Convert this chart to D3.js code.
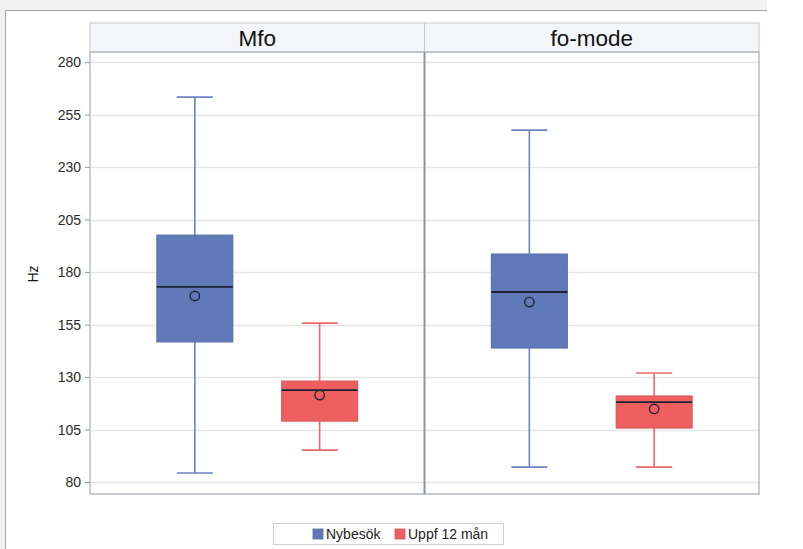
<!DOCTYPE html>
<html>
<head>
<meta charset="utf-8">
<script src="https://cdn.jsdelivr.net/npm/d3@7"></script>
<style>
  html, body { margin: 0; padding: 0; background: #ffffff; }
  svg { display: block; font-family: "Liberation Sans", Arial, sans-serif; }
</style>
</head>
<body>
<svg id="chart" width="803" height="549"></svg>
<script>
// Panels and groups
const panels = ["Mfo", "fo-mode"];
const groups = ["Nybesök", "Uppf 12 mån"];
const groupColors = ["#6079b9", "#ef5f5f"];
const whiskerColors = ["#6b83c2", "#ea6a6a"];

// Box statistics (Hz), one entry per panel, ordered by group
const whiskerLow  = [[84.3, 95.2],  [87.1, 87.1]];
const q1          = [[146.7, 109.0], [143.8, 105.7]];
const median      = [[172.9, 123.8], [170.5, 118.1]];
const q3          = [[197.6, 128.1], [188.6, 121.0]];
const whiskerHigh = [[263.3, 155.7], [247.6, 131.9]];
const mean        = [[168.6, 121.4], [165.7, 114.8]];

const yTicks = [80, 105, 130, 155, 180, 205, 230, 255, 280];

const svg = d3.select("#chart");

// page frame
svg.append("rect").attr("x", 0).attr("y", 0).attr("width", 767).attr("height", 10).attr("fill", "#f1f1f1");
svg.append("rect").attr("x", 0).attr("y", 0).attr("width", 5).attr("height", 549).attr("fill", "#f1f1f1");
svg.append("path").attr("d", "M5.5,549 V10.5 H767").attr("fill", "none").attr("stroke", "#a8a8a8").attr("stroke-width", 1);

const plotLeft = 90, plotRight = 759, plotTop = 52, plotBottom = 494;
const headerTop = 23;
const panelW = (plotRight - plotLeft) / panels.length;

const y = d3.scaleLinear().domain([74.3, 284.8]).range([plotBottom, plotTop]);
const xPanel = d3.scaleBand().domain(panels).range([plotLeft, plotRight]);
const xGroup = d3.scalePoint().domain(groups).range([0, panelW]).padding(0.84);
const boxW = 76, capW = 36;

// header strips
panels.forEach(p => {
  const px = xPanel(p);
  svg.append("rect").attr("x", px).attr("y", headerTop).attr("width", panelW).attr("height", plotTop - headerTop)
    .attr("fill", "#f4f6fa").attr("stroke", "#c4c8cc").attr("stroke-width", 1);
  svg.append("text").attr("x", px + panelW / 2).attr("y", headerTop + 23)
    .attr("text-anchor", "middle").attr("font-size", 22.5).attr("fill", "#111").text(p);
});

// gridlines
svg.append("g").selectAll("line").data(yTicks).join("line")
  .attr("x1", plotLeft).attr("x2", plotRight)
  .attr("y1", d => Math.round(y(d)) + 0.5).attr("y2", d => Math.round(y(d)) + 0.5)
  .attr("stroke", "#e6e6e6").attr("stroke-width", 1.5);

// y axis
const yAxis = d3.axisLeft(y).tickValues(yTicks).tickSize(5).tickPadding(4);
const ga = svg.append("g").attr("transform", `translate(${plotLeft},0)`).call(yAxis);
ga.select(".domain").remove();
ga.selectAll(".tick line").attr("stroke", "#999");
ga.selectAll(".tick text").attr("font-size", 14).attr("fill", "#2a2a2a").attr("font-family", "Liberation Sans, Arial, sans-serif");

svg.append("text").attr("transform", `translate(38,${(plotTop + plotBottom) / 2 + 1}) rotate(-90)`)
  .attr("text-anchor", "middle").attr("font-size", 14).attr("fill", "#1a1a1a").text("Hz");

// boxes
panels.forEach((p, pi) => {
  const g = svg.append("g").attr("transform", `translate(${xPanel(p)},0)`);
  groups.forEach((grp, gi) => {
    const cx = xGroup(grp);
    const wc = whiskerColors[gi];
    // whiskers
    g.append("line").attr("x1", cx).attr("x2", cx)
      .attr("y1", y(whiskerHigh[pi][gi])).attr("y2", y(q3[pi][gi]))
      .attr("stroke", wc).attr("stroke-width", 1.6);
    g.append("line").attr("x1", cx).attr("x2", cx)
      .attr("y1", y(q1[pi][gi])).attr("y2", y(whiskerLow[pi][gi]))
      .attr("stroke", wc).attr("stroke-width", 1.6);
    [whiskerHigh[pi][gi], whiskerLow[pi][gi]].forEach(v => {
      g.append("line").attr("x1", cx - capW / 2).attr("x2", cx + capW / 2)
        .attr("y1", y(v)).attr("y2", y(v))
        .attr("stroke", wc).attr("stroke-width", 1.6);
    });
    // box
    g.append("rect").attr("x", cx - boxW / 2).attr("width", boxW)
      .attr("y", y(q3[pi][gi])).attr("height", y(q1[pi][gi]) - y(q3[pi][gi]))
      .attr("fill", groupColors[gi]).attr("stroke", d3.color(groupColors[gi]).darker(0.3)).attr("stroke-width", 1);
    // median
    g.append("line").attr("x1", cx - boxW / 2).attr("x2", cx + boxW / 2)
      .attr("y1", y(median[pi][gi])).attr("y2", y(median[pi][gi]))
      .attr("stroke", "#1b2233").attr("stroke-width", 1.8);
    // mean
    g.append("circle").attr("cx", cx).attr("cy", y(mean[pi][gi])).attr("r", 4.7)
      .attr("fill", "none").attr("stroke", "#1b2233").attr("stroke-width", 1.4);
  });
});

// panel frames
panels.forEach(p => {
  svg.append("rect").attr("x", xPanel(p)).attr("y", plotTop).attr("width", panelW).attr("height", plotBottom - plotTop)
    .attr("fill", "none").attr("stroke", "#b8bdc2").attr("stroke-width", 1.5);
});
svg.append("line").attr("x1", xPanel(panels[1])).attr("x2", xPanel(panels[1]))
  .attr("y1", plotTop).attr("y2", plotBottom).attr("stroke", "#8f9498").attr("stroke-width", 1.6);

// legend
const lg = svg.append("g");
lg.append("rect").attr("x", 273.5).attr("y", 523.5).attr("width", 230).attr("height", 21)
  .attr("fill", "#fff").attr("stroke", "#d0d0d0");
const legendX = [313, 395];
groups.forEach((grp, gi) => {
  lg.append("rect").attr("x", legendX[gi]).attr("y", 529).attr("width", 10).attr("height", 10)
    .attr("fill", groupColors[gi]).attr("stroke", d3.color(groupColors[gi]).darker(0.3)).attr("stroke-width", 0.8);
  lg.append("text").attr("x", legendX[gi] + 13).attr("y", 539)
    .attr("font-size", 14).attr("fill", "#222").text(grp);
});
</script>
</body>
</html>
